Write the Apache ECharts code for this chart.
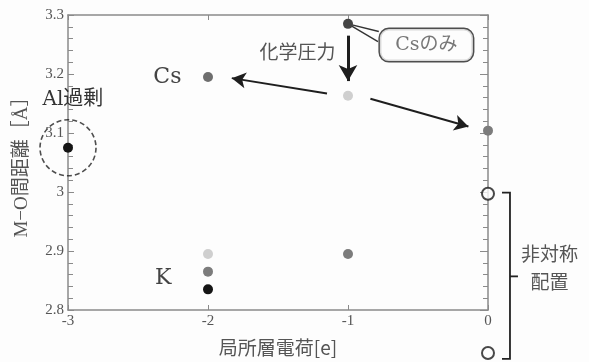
<!DOCTYPE html>
<html><head><meta charset="utf-8">
<script src="https://cdn.jsdelivr.net/npm/echarts@6/dist/echarts.min.js"></script>
<style>html,body{margin:0;padding:0;background:#fdfdfd}#c{width:589px;height:362px}</style>
</head><body><div id="c"></div>
<script>
// ---- data (x: 局所層電荷 [e], y: M-O間距離 [Å]) ----
const xTicks = [-3, -2, -1, 0];
const yTicks = [2.8, 2.9, 3.0, 3.1, 3.2, 3.3];
const ptsBlack = [[-3, 3.075], [-2, 2.835]];
const ptsDark = [[-1, 3.285]];
const ptsMid = [[-2, 3.195]];
const ptsGray = [[0, 3.104], [-2, 2.865], [-1, 2.895]];
const ptsLight = [[-1, 3.163], [-2, 2.895]];
const ptsOpen = [[0, 2.997], [0, 2.727]];
const alCircle = [[-3, 3.075]];
// annotations in data coordinates
const arrowDown = [[-1, 3.265], [-1, 3.188]];
const arrowLeft = [[-1.15, 3.167], [-1.83, 3.193]];
const arrowRight = [[-0.84, 3.158], [-0.14, 3.111]];
const calloutPt = [-1, 3.285];
const calloutBox = [-0.44, 3.249];
const calloutEdges = [[-0.78, 3.272], [-0.786, 3.255]];
const bracketX = [0.1, 0.157, 0.214];
const bracketY = [2.999, 2.857, 2.717];
const sideText = {name: '非対称\n配置', coord: [0.44, 2.871]};
const texts = [
  {name: 'Cs', coord: [-2.29, 3.194], size: 22, color: '#444', font: 'DejaVu Serif'},
  {name: 'K', coord: [-2.32, 2.854], size: 22, color: '#444', font: 'DejaVu Serif'},
  {name: '化学圧力', coord: [-1.36, 3.2375], size: 19, color: '#555', font: 'Noto Sans CJK JP'},
  {name: 'Al過剰', coord: [-2.965, 3.156], size: 20, color: '#333', font: 'DejaVu Serif, Noto Sans CJK JP'}
];

const chart = echarts.init(document.getElementById('c'), null, {renderer: 'canvas'});
const axisCol = '#8a8a8a';
const labelFont = {color: '#555', fontSize: 15, fontFamily: 'Liberation Serif'};
function dot(data, color, size) {
  return {type: 'scatter', data: data, symbolSize: size || 10, clip: false,
    itemStyle: {color: color, opacity: 1}, z: 5};
}
chart.setOption({
  backgroundColor: '#fdfdfd',
  animation: false,
  grid: {left: 68, right: 101, top: 15, bottom: 51},
  xAxis: [{
    type: 'value', min: xTicks[0], max: xTicks[xTicks.length - 1], interval: 1,
    name: '局所層電荷[e]', nameLocation: 'middle', nameGap: 28,
    nameTextStyle: {color: '#555', fontSize: 19, fontFamily: 'Noto Sans CJK JP, Liberation Serif'},
    axisLine: {show: true, onZero: false, lineStyle: {color: axisCol, width: 1.5}},
    axisTick: {show: true, inside: true, length: 5, lineStyle: {color: axisCol}},
    axisLabel: Object.assign({margin: 4}, labelFont),
    splitLine: {show: false}
  }, {
    type: 'value', position: 'top', min: xTicks[0], max: xTicks[xTicks.length - 1], interval: 1,
    axisLine: {show: true, onZero: false, lineStyle: {color: axisCol, width: 1.5}},
    axisTick: {show: true, inside: true, length: 5, lineStyle: {color: axisCol}},
    axisLabel: {show: false}, splitLine: {show: false}
  }],
  yAxis: [{
    type: 'value', min: yTicks[0], max: yTicks[yTicks.length - 1], interval: 0.1,
    name: 'M−O間距離［Å］', nameLocation: 'middle', nameGap: 36, nameRotate: 90,
    nameTextStyle: {color: '#555', fontSize: 19, fontFamily: 'Liberation Serif, Noto Sans CJK JP'},
    axisLine: {show: true, onZero: false, lineStyle: {color: axisCol, width: 1.5}},
    axisTick: {show: true, inside: true, length: 6, lineStyle: {color: axisCol}},
    minorTick: {show: true, splitNumber: 5, length: 5, lineStyle: {color: axisCol}},
    axisLabel: Object.assign({margin: 4, formatter: v => String(+v.toFixed(1))}, labelFont),
    splitLine: {show: false}
  }, {
    type: 'value', position: 'right', min: yTicks[0], max: yTicks[yTicks.length - 1], interval: 0.1,
    axisLine: {show: true, onZero: false, lineStyle: {color: axisCol, width: 1.5}},
    axisTick: {show: true, inside: true, length: 8, lineStyle: {color: axisCol}},
    minorTick: {show: true, splitNumber: 5, length: 5, lineStyle: {color: axisCol}},
    axisLabel: {show: false}, splitLine: {show: false}
  }],
  series: [
    {type: 'scatter', data: alCircle, symbolSize: 56, clip: false, z: 3,
      itemStyle: {color: 'rgba(0,0,0,0)', borderColor: '#222', borderWidth: 1.6, borderType: [5, 3]}},
    dot(ptsBlack, '#151515'),
    dot(ptsDark, '#444'),
    dot(ptsMid, '#6e6e6e'),
    dot(ptsGray, '#7c7c7c'),
    dot(ptsLight, '#cfcfcf'),
    {type: 'scatter', data: ptsOpen, symbolSize: 12, clip: false, z: 5,
      itemStyle: {color: '#fdfdfd', borderColor: '#1a1a1a', borderWidth: 2}},
    {type: 'scatter', data: [calloutBox], symbolSize: 1, clip: false, z: 6,
      itemStyle: {color: 'rgba(0,0,0,0)'},
      label: {show: true, position: 'inside', formatter: 'Csのみ', color: '#555', fontSize: 19,
        fontFamily: 'DejaVu Serif, Noto Sans CJK JP', backgroundColor: '#fdfdfd',
        borderColor: '#222', borderWidth: 1.5, borderRadius: 9, width: 81, height: 20, align: 'center',
        padding: [6, 6, 6, 6]}},
    {type: 'scatter', data: [], clip: false, z: 7,
      markLine: {silent: true, animation: false, label: {show: false}, symbol: ['none', 'none'],
        data: [
          [{coord: arrowDown[0], lineStyle: {width: 3, color: '#1e1e1e', type: 'solid'}, symbol: 'none'},
           {coord: arrowDown[1], symbol: 'arrow', symbolSize: [14, 16]}],
          [{coord: arrowLeft[0], lineStyle: {width: 2, color: '#1e1e1e', type: 'solid'}, symbol: 'none'},
           {coord: arrowLeft[1], symbol: 'arrow', symbolSize: [12, 14]}],
          [{coord: arrowRight[0], lineStyle: {width: 2, color: '#1e1e1e', type: 'solid'}, symbol: 'none'},
           {coord: arrowRight[1], symbol: 'arrow', symbolSize: [12, 14]}],
          [{coord: calloutPt, lineStyle: {width: 1.4, color: '#333', type: 'solid'}}, {coord: calloutEdges[0]}],
          [{coord: calloutPt, lineStyle: {width: 1.4, color: '#333', type: 'solid'}}, {coord: calloutEdges[1]}]
        ]},
      markPoint: {silent: true, animation: false, symbol: 'circle', symbolSize: 0,
        data: texts.map(t => ({name: t.name, coord: t.coord,
          label: {show: true, position: 'inside', formatter: t.name, color: t.color, fontSize: t.size,
            fontFamily: t.font, align: 'center', verticalAlign: 'middle'}}))}
    }
  ]
});
// bracket and side text lie outside the axis range: place via the chart's own scale
const px = c => chart.convertToPixel({xAxisIndex: 0, yAxisIndex: 0}, c);
const bTop = px([bracketX[1], bracketY[0]]), bBot = px([bracketX[1], bracketY[2]]);
const bTl = px([bracketX[0], bracketY[0]]), bBl = px([bracketX[0], bracketY[2]]);
const bMid = px([bracketX[1], bracketY[1]]), bMr = px([bracketX[2], bracketY[1]]);
const st = px(sideText.coord);
const ls = {stroke: '#222', lineWidth: 1.8};
chart.setOption({graphic: [
  {type: 'polyline', shape: {points: [bTl, bTop, bBot, bBl]}, style: Object.assign({fill: null}, ls), z: 10},
  {type: 'line', shape: {x1: bMid[0], y1: bMid[1], x2: bMr[0], y2: bMr[1]}, style: ls, z: 10},
  {type: 'text', x: st[0], y: st[1], z: 10, style: {text: sideText.name, fill: '#555', fontSize: 19,
    fontFamily: 'Noto Sans CJK JP', align: 'center', verticalAlign: 'middle', lineHeight: 28}}
]});
</script></body></html>
